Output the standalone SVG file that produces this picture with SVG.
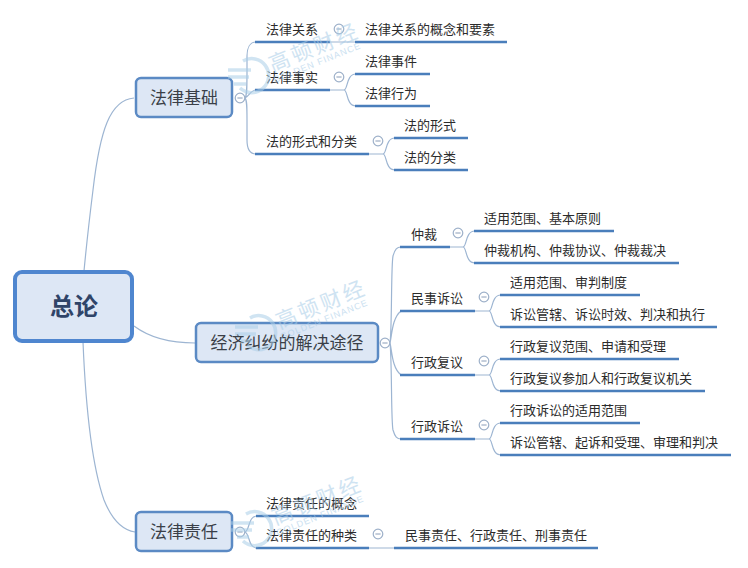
<svg xmlns="http://www.w3.org/2000/svg" width="748" height="568" viewBox="0 0 748 568">
<style>
text{font-family:"Noto Sans CJK SC","Noto Sans",sans-serif;fill:#2b2b2b}
.t{font-size:13px}
.b{font-size:17px;fill:#3a3f48;text-anchor:middle}
.r{font-size:24px;font-weight:700;fill:#2f4468;text-anchor:middle}
.n{fill:#dde7f5;stroke:#5b8ac4;stroke-width:2.5}
.root{fill:#dde7f5;stroke:#4f86cf;stroke-width:4}
.u{stroke:#4a7ebb;stroke-width:2.4;fill:none}
.c{stroke:#9db5d2;stroke-width:1.2;fill:none}
.m{fill:#fff;stroke:#9db0c9;stroke-width:1.2}
.mm{stroke:#8a9db8;stroke-width:1}
text.w{fill:#a9cde8;opacity:.55;font-size:21px;letter-spacing:3px}
text.we{fill:#a9cde8;opacity:.6;font-size:9px;letter-spacing:1px;font-family:"Liberation Sans",sans-serif}
.wl{fill:none;stroke:#a9cde8;stroke-width:3.5;opacity:.55}
</style>
<defs>
<g id="minus"><circle r="4.8" class="m"/><path d="M-2.6 0H2.6" class="mm"/></g>
<g id="wm"><path class="wl" d="M-9 -14A17 17 0 1 1 -12 13M-24 -5H-1M-24 2H-3M-18 9H-6"/><g transform="rotate(-22)"><text class="w" x="20" y="5">高顿财经</text><text class="we" x="18" y="16">GOLDEN FINANCE</text></g></g>
</defs>
<rect width="748" height="568" fill="#fff"/>
<g id="connectors">
<path class="c" d="M134 98C110 100 100 130 93 190C88 230 86 250 84 271"/>
<path class="c" d="M83 342C85 390 90 460 104 500C112 520 122 530 135 532"/>
<path class="c" d="M134 326C150 338 170 343 195 343"/>
<path class="c" d="M245 98C247 96 247 88 247 70V56C247 48 250 42 256 42M245 98C249 96 251 90 256 90M245 98C247 100 247 106 247 120V140C247 150 250 154 256 154"/>
<path class="c" d="M330 42H355M330 90H344M344 90C348 90 346 74 356 74M344 90C348 90 346 106 356 106M369 154H383M383 154C387 154 385 138 395 138M383 154C387 154 385 170 395 170"/>
<path class="c" d="M390 343C392 330 391 265 393 256C395 249 397 247 401 247M390 343C392 335 392 318 401 311M390 343C392 351 392 368 401 375M390 343C392 360 391 422 393 430C395 437 397 439 401 439"/>
<path class="c" d="M450 247H463M463 247C467 247 465 231 475 231M463 247C467 247 465 263 475 263M475 311H489M489 311C493 311 491 295 501 295M489 311C493 311 491 327 501 327M475 375H489M489 375C493 375 491 359 501 359M489 375C493 375 491 391 501 391M475 439H489M489 439C493 439 491 423 501 423M489 439C493 439 491 455 501 455"/>
<path class="c" d="M245 532C250 530 248 516 257 516M245 532C250 534 248 548 257 548M369 548H394"/>
<g class="u">
<path d="M255 42H330M355 42H507M255 90H330M355 74H430M355 106H430M255 154H369M394 138H468M394 170H468"/>
<path d="M400 247H450M474 231H614M474 263H679M400 311H475M500 295H640M500 327H717M400 375H475M500 359H679M500 391H705M400 439H475M500 423H640M500 455H731"/>
<path d="M256 516H369M256 548H369M394 548H598"/>
</g>
<use href="#minus" x="240" y="98"/>
<use href="#minus" x="339" y="29"/>
<use href="#minus" x="339" y="77"/>
<use href="#minus" x="378" y="141"/>
<use href="#minus" x="385" y="343"/>
<use href="#minus" x="458" y="233"/>
<use href="#minus" x="484" y="297"/>
<use href="#minus" x="484" y="361"/>
<use href="#minus" x="484" y="425"/>
<use href="#minus" x="240" y="532"/>
<use href="#minus" x="378" y="534"/>
</g>
<g id="root"><rect class="root" x="15" y="272" width="117" height="69" rx="7"/><text class="r" x="74" y="315">总论</text></g>
<g id="n1"><rect class="n" x="136" y="78" width="96" height="39" rx="5"/><text class="b" x="184" y="104">法律基础</text></g>
<g id="n2"><rect class="n" x="196" y="323" width="182" height="39" rx="5"/><text class="b" x="287" y="349">经济纠纷的解决途径</text></g>
<g id="n3"><rect class="n" x="136" y="512" width="96" height="39" rx="5"/><text class="b" x="184" y="538">法律责任</text></g>
<g id="labels">
<g id="l1"><text class="t" x="266" y="34">法律关系</text></g>
<g id="l2"><text class="t" x="365" y="34">法律关系的概念和要素</text></g>
<g id="l3"><text class="t" x="266" y="82">法律事实</text></g>
<g id="l4"><text class="t" x="365" y="66">法律事件</text></g>
<g id="l5"><text class="t" x="365" y="98">法律行为</text></g>
<g id="l6"><text class="t" x="266" y="146">法的形式和分类</text></g>
<g id="l7"><text class="t" x="404" y="130">法的形式</text></g>
<g id="l8"><text class="t" x="404" y="162">法的分类</text></g>
<g id="l9"><text class="t" x="411" y="239">仲裁</text></g>
<g id="l10"><text class="t" x="484" y="223">适用范围、基本原则</text></g>
<g id="l11"><text class="t" x="484" y="255">仲裁机构、仲裁协议、仲裁裁决</text></g>
<g id="l12"><text class="t" x="411" y="303">民事诉讼</text></g>
<g id="l13"><text class="t" x="510" y="287">适用范围、审判制度</text></g>
<g id="l14"><text class="t" x="510" y="319">诉讼管辖、诉讼时效、判决和执行</text></g>
<g id="l15"><text class="t" x="411" y="367">行政复议</text></g>
<g id="l16"><text class="t" x="510" y="351">行政复议范围、申请和受理</text></g>
<g id="l17"><text class="t" x="510" y="383">行政复议参加人和行政复议机关</text></g>
<g id="l18"><text class="t" x="411" y="431">行政诉讼</text></g>
<g id="l19"><text class="t" x="510" y="415">行政诉讼的适用范围</text></g>
<g id="l20"><text class="t" x="510" y="447">诉讼管辖、起诉和受理、审理和判决</text></g>
<g id="l21"><text class="t" x="266" y="508">法律责任的概念</text></g>
<g id="l22"><text class="t" x="266" y="540">法律责任的种类</text></g>
<g id="l23"><text class="t" x="405" y="540">民事责任、行政责任、刑事责任</text></g>
</g>
<g id="watermarks">
<use href="#wm" x="252" y="75"/>
<use href="#wm" x="259" y="332"/>
<use href="#wm" x="255" y="528"/>
</g>
</svg>
